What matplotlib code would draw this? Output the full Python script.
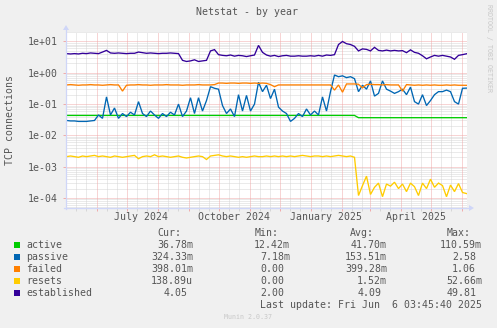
"""Munin-style yearly netstat graph (rrdtool look, log scale)."""

import matplotlib
matplotlib.use("Agg")
import matplotlib.pyplot as plt
from matplotlib.lines import Line2D
from matplotlib.patches import Polygon, Rectangle
from matplotlib.ticker import FixedLocator, FuncFormatter, NullFormatter
from matplotlib.transforms import Affine2D, blended_transform_factory
import pandas as pd

W, H, DPI = 497, 328, 100

BACK = "#F0F0F0"
CANVAS = "#FFFFFF"
FONT = "#555555"
AXIS = "#CFD6F8"
GRID = "#d6d6d6"
MGRID = "#f0aaaa"
MONO = "DejaVu Sans Mono"
FS = 7.1

# one sample every 4 days, 2024-05-02 .. 2025-06-06
dates = pd.date_range("2024-05-02", periods=101, freq="4D")

active = [0.0435] * 73 + [0.0368] * 28

passive = [
    0.030, 0.029, 0.029, 0.028, 0.028, 0.028, 0.029, 0.030,
    0.045, 0.035, 0.17, 0.045, 0.075, 0.035, 0.05, 0.04,
    0.055, 0.045, 0.12, 0.05, 0.04, 0.06, 0.045, 0.035,
    0.05, 0.04, 0.055, 0.045, 0.10, 0.04, 0.06, 0.16,
    0.05, 0.16, 0.06, 0.13, 0.36, 0.32, 0.30, 0.09,
    0.05, 0.07, 0.04, 0.20, 0.06, 0.19, 0.06, 0.10,
    0.50, 0.25, 0.40, 0.15, 0.30, 0.08, 0.06, 0.05,
    0.028, 0.035, 0.05, 0.04, 0.07, 0.045, 0.06, 0.045,
    0.17, 0.06, 0.25, 0.85, 0.75, 0.80, 0.70, 0.75,
    0.65, 0.25, 0.40, 0.30, 0.55, 0.18, 0.22, 0.55,
    0.30, 0.26, 0.22, 0.25, 0.30, 0.20, 0.35, 0.12,
    0.10, 0.20, 0.09, 0.13, 0.20, 0.25, 0.25, 0.28,
    0.25, 0.12, 0.10, 0.32, 0.324,
]

failed = [
    0.41, 0.42, 0.41, 0.40, 0.41, 0.41, 0.42, 0.41,
    0.41, 0.40, 0.41, 0.42, 0.41, 0.41, 0.26, 0.40,
    0.41, 0.41, 0.42, 0.41, 0.41, 0.40, 0.41, 0.41,
    0.41, 0.42, 0.41, 0.41, 0.41, 0.40, 0.41, 0.41,
    0.41, 0.42, 0.41, 0.41, 0.41, 0.42, 0.47, 0.47,
    0.46, 0.47, 0.47, 0.46, 0.47, 0.47, 0.46, 0.47,
    0.46, 0.47, 0.46, 0.42, 0.36, 0.41, 0.41, 0.41,
    0.41, 0.41, 0.41, 0.41, 0.41, 0.41, 0.41, 0.41,
    0.41, 0.41, 0.41, 0.28, 0.41, 0.24, 0.44, 0.44,
    0.44, 0.43, 0.33, 0.42, 0.43, 0.42, 0.42, 0.41,
    0.42, 0.41, 0.41, 0.41, 0.26, 0.42, 0.41, 0.40,
    0.41, 0.40, 0.41, 0.40, 0.41, 0.40, 0.40, 0.41,
    0.40, 0.41, 0.40, 0.40, 0.398,
]

resets = [
    0.0021, 0.0022, 0.0021, 0.0020, 0.0022, 0.0021, 0.0022, 0.0023,
    0.0021, 0.0022, 0.0021, 0.0020, 0.0022, 0.0021, 0.0020, 0.0021,
    0.0022, 0.0023, 0.0018, 0.0021, 0.0022, 0.0021, 0.0024, 0.0021,
    0.0022, 0.0021, 0.0020, 0.0021, 0.0022, 0.0020, 0.0019, 0.0020,
    0.0021, 0.0022, 0.0021, 0.0017, 0.0022, 0.0023, 0.0024, 0.0022,
    0.0021, 0.0022, 0.0021, 0.0020, 0.0021, 0.0020, 0.0021, 0.0022,
    0.0021, 0.0021, 0.0022, 0.0021, 0.0022, 0.0021, 0.0022, 0.0021,
    0.0022, 0.0021, 0.0022, 0.0023, 0.0022, 0.0021, 0.0022, 0.0022,
    0.0021, 0.0022, 0.0021, 0.0022, 0.0023, 0.0022, 0.0021, 0.0022,
    0.0020, 0.00012, 0.00025, 0.00050, 0.00013, 0.00022, 0.00030, 0.00011,
    0.00028, 0.00024, 0.00032, 0.00020, 0.00028, 0.00016, 0.00030, 0.00023,
    0.00012, 0.00030, 0.00020, 0.00040, 0.00022, 0.00030, 0.00025, 0.00011,
    0.00026, 0.00016, 0.00029, 0.00015, 0.000139,
]

established = [
    4.1, 4.0, 4.1, 4.0, 4.2, 4.1, 4.3, 4.2,
    4.1, 4.6, 5.2, 4.3, 4.2, 4.3, 4.2, 4.1,
    4.2, 4.2, 4.6, 4.4, 4.2, 4.3, 4.2, 4.1,
    4.2, 4.2, 4.3, 4.2, 4.1, 2.5, 2.3, 2.4,
    2.6, 2.3, 2.4, 2.5, 5.0, 5.5, 3.8, 3.6,
    3.5, 3.7, 3.4, 3.6, 3.5, 3.3, 3.5, 3.7,
    7.5, 4.5, 3.7, 3.4, 3.6, 3.3, 3.5, 3.6,
    3.4, 3.4, 3.5, 3.4, 3.4, 3.5, 3.4, 3.6,
    3.4, 3.7, 3.6, 3.8, 8.0, 10.0, 8.5, 8.0,
    7.0, 5.0, 5.8, 5.6, 5.0, 6.5, 5.2, 5.0,
    5.3, 5.0, 5.2, 5.0, 5.1, 4.4, 5.4, 4.5,
    4.2, 3.5, 2.8, 3.2, 3.6, 3.4, 3.6, 3.4,
    3.2, 2.7, 3.6, 3.8, 4.05,
]

names = ["active", "passive", "failed", "resets", "established"]
colors = ["#00CC00", "#0066B3", "#FF8000", "#FFCC00", "#330099"]
series = [active, passive, failed, resets, established]

cur_txt = ["36.78m", "324.33m", "398.01m", "138.89u", "4.05"]
min_txt = ["12.42m", "7.18m", "0.00", "0.00", "2.00"]
avg_txt = ["41.70m", "153.51m", "399.28m", "1.52m", "4.09"]
max_txt = ["110.59m", "2.58", "1.06", "52.66m", "49.81"]

month_lines = pd.date_range("2024-06-01", "2025-06-01", freq="MS")
minor_lines = [d + pd.Timedelta(days=k) for d in pd.date_range("2024-05-01", "2025-06-01", freq="MS")
               for k in (10, 20)]
label_dates = pd.to_datetime(["2024-07-16", "2024-10-16", "2025-01-16", "2025-04-16"])
label_text = ["July 2024", "October 2024", "January 2025", "April 2025"]
decades = [1e-4, 1e-3, 1e-2, 1e-1, 1e0, 1e1]

fig = plt.figure(figsize=(W / DPI, H / DPI), dpi=DPI, facecolor=BACK)
# pixel coordinates, origin top-left
px = Affine2D().scale(1 / W, -1 / H).translate(0, 1) + fig.transFigure

L, T, R, B = 66, 32, 467, 208
ax = fig.add_axes([L / W, 1 - B / H, (R - L) / W, (B - T) / H])
ax.set_facecolor(CANVAS)
for s in ax.spines.values():
    s.set_visible(False)

ax.set_yscale("log")
ax.set_ylim(4.8e-5, 20.1)
ax.set_xlim(dates[0] - pd.Timedelta(hours=12), dates[-1] + pd.Timedelta(hours=12))

# grid: dotted gray minors, dotted red majors
dot = (0, (1, 1))
for d in minor_lines:
    ax.axvline(d, color=GRID, lw=0.72, ls=dot, zorder=0)
for dec in [1e-5] + decades:
    for k in range(2, 10):
        ax.axhline(dec * k, color=GRID, lw=0.72, ls=dot, zorder=0)
for d in month_lines:
    ax.axvline(d, color=MGRID, lw=0.72, ls=dot, zorder=0.5)
for dec in decades:
    ax.axhline(dec, color=MGRID, lw=0.72, ls=dot, zorder=0.5)

for vals, c in zip(series, colors):
    ax.plot(dates, vals, color=c, lw=0.95, solid_joinstyle="miter", zorder=3)

ax.yaxis.set_major_locator(FixedLocator(decades))
ax.yaxis.set_minor_formatter(NullFormatter())
ax.yaxis.set_major_formatter(FuncFormatter(lambda v, _: f"{v:.0e}"))
ax.tick_params(axis="y", which="major", length=2, width=0.7, color=MGRID, pad=4,
               labelsize=FS, labelcolor=FONT)
ax.tick_params(axis="y", which="minor", length=0)
ax.xaxis.set_major_locator(FixedLocator(matplotlib.dates.date2num(month_lines)))
ax.xaxis.set_minor_locator(FixedLocator(matplotlib.dates.date2num(minor_lines)))
ax.tick_params(axis="x", which="major", length=2, width=0.7, color=MGRID, labelbottom=False)
ax.tick_params(axis="x", which="minor", length=2, width=0.7, color=GRID)
for lbl in ax.get_yticklabels():
    lbl.set_family(MONO)

xlab_tr = blended_transform_factory(ax.transData, px)
for d, t in zip(label_dates, label_text):
    ax.text(d, 217, t, transform=xlab_tr, ha="center", va="center",
            family=MONO, fontsize=FS, color=FONT, clip_on=False)

# axis lines with arrow heads
fig.add_artist(Line2D([L, L], [B + 1, T - 3], transform=px, color=AXIS, lw=0.9))
fig.add_artist(Line2D([L - 2, R + 3], [B, B], transform=px, color=AXIS, lw=0.9))
fig.add_artist(Polygon([[L - 3, T - 2], [L + 3, T - 2], [L, T - 7]], closed=True,
                       transform=px, color=AXIS, lw=0))
fig.add_artist(Polygon([[R + 2, B - 3], [R + 2, B + 3], [R + 7, B]], closed=True,
                       transform=px, color=AXIS, lw=0))

fig.text(247.5, 12, "Netstat - by year", transform=px, ha="center", va="center",
         family=MONO, fontsize=FS, color=FONT)
fig.text(10.5, 120, "TCP connections", transform=px, ha="center", va="center",
         rotation=90, family=MONO, fontsize=FS, color=FONT)
fig.text(489.5, 48, "RRDTOOL / TOBI OETIKER", transform=px, ha="center", va="center",
         rotation=-90, family=MONO, fontsize=4.8, color="#c8c8c8")

# legend table
CW = FS * DPI / 72 * 0.602
for x0, h in zip([157, 255, 350, 447], ["Cur:", "Min:", "Avg:", "Max:"]):
    fig.text(x0, 233.5, h, transform=px, ha="left", va="center",
             family=MONO, fontsize=FS, color=FONT)

row_y = [245, 257, 269, 281, 293]
for i, y in enumerate(row_y):
    fig.add_artist(Rectangle((14, y - 3), 6, 6, transform=px, color=colors[i], lw=0))
    fig.text(26, y, names[i], transform=px, ha="left", va="center",
             family=MONO, fontsize=FS, color=FONT)
    for right, col in zip([193, 290, 387, 482], [cur_txt, min_txt, avg_txt, max_txt]):
        s = col[i]
        xr = right if s[-1].isalpha() else right - CW
        fig.text(xr, y, s, transform=px, ha="right", va="center",
                 family=MONO, fontsize=FS, color=FONT)

fig.text(482, 305, "Last update: Fri Jun  6 03:45:40 2025", transform=px,
         ha="right", va="center", family=MONO, fontsize=FS, color=FONT)
fig.text(247.5, 317, "Munin 2.0.37", transform=px, ha="center", va="center",
         family=MONO, fontsize=4.8, color="#c8c8c8")

fig.savefig("out.png", dpi=DPI, facecolor=BACK)
